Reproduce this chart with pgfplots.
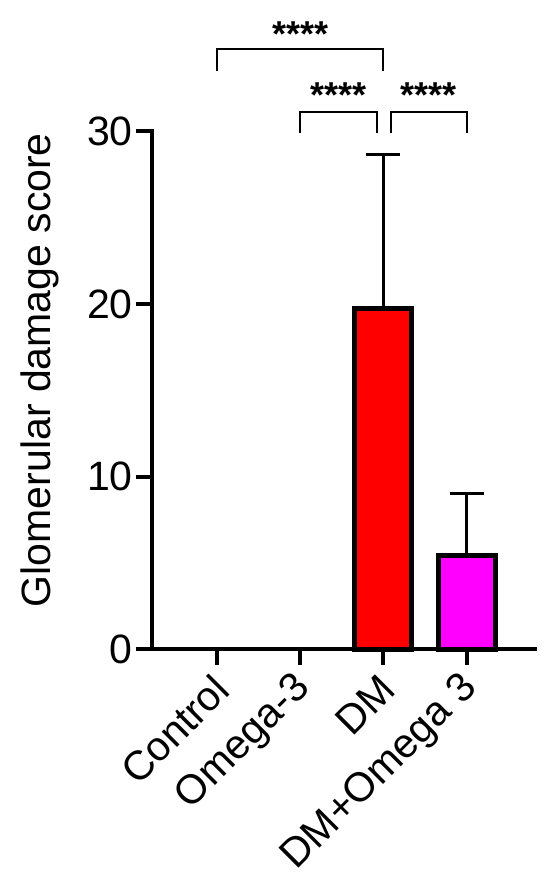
\documentclass[border=0pt]{standalone}
\usepackage{fontspec}
\setmainfont{Liberation Sans}
\usepackage{pgfplots}
\pgfplotsset{compat=1.18}
\usepackage{pgfplotstable}

\definecolor{dmred}{HTML}{FF0000}
\definecolor{dmmag}{HTML}{FF00FF}

% group, mean, SD (upper bar only)
\pgfplotstableread{
x  y     err
2  19.71 8.95
}\dmdata
\pgfplotstableread{
x  y     err
3  5.41  3.62
}\dmomdata
\pgfplotstableread{
x  y
0  0
1  0
}\ctrldata

\newcommand{\lbl}{\fontsize{41}{49}\selectfont}
\newcommand{\stars}{\fontsize{36}{40}\selectfont\bfseries ****}

\begin{document}
\begin{tikzpicture}
\begin{axis}[
    at={(0,0)}, anchor=south west,
    scale only axis,
    width=383.3pt, height=518pt,
    xmin=-0.78, xmax=3.82,
    ymin=0, ymax=30,
    axis lines=left,
    axis line style={line width=4pt, -, line cap=rect},
    tick style={line width=4pt, black},
    major tick length=15.7pt,
    tick align=outside,
    xtick={0,1,2,3},
    xticklabels={Control, Omega-3, DM, DM+Omega 3},
    ytick={0,10,20,30},
    minor tick num=0,
    /pgf/number format/assume math mode=true,
    tick label style={font=\lbl, inner sep=2pt},
    xticklabel style={yshift=-16pt, xshift=6pt, rotate=45, anchor=east},
    yticklabel style={xshift=-1pt},
    ylabel={Glomerular damage score},
    every axis y label/.style={at={(axis description cs:-0.292,0.539)},
        anchor=center, rotate=90, font=\lbl},
    clip=false,
    ybar,
    bar width=57pt,
]
% zero-height bars: nothing visible
\addplot[ybar, bar shift=0pt, draw=none, fill=none]
    table[x=x, y=y] {\ctrldata};
\addplot[ybar, bar shift=0pt, draw=black, line width=5pt, fill=dmred,
    error bars/.cd, y dir=plus, y explicit,
    error bar style={line width=2.5pt, black},
    error mark options={rotate=90, line width=2.5pt, mark size=17pt, black}]
    table[x=x, y=y, y error=err] {\dmdata};
\addplot[ybar, bar shift=0pt, draw=black, line width=5pt, fill=dmmag,
    error bars/.cd, y dir=plus, y explicit,
    error bar style={line width=2.5pt, black},
    error mark options={rotate=90, line width=2.5pt, mark size=17pt, black}]
    table[x=x, y=y, y error=err] {\dmomdata};

% significance brackets
\draw[line width=2pt] (axis cs:0,33.5) -- (axis cs:0,34.74) -- (axis cs:2,34.74) -- (axis cs:2,33.5);
\draw[line width=2pt] (axis cs:1,29.92) -- (axis cs:1,31.13) -- (axis cs:1.92,31.13) -- (axis cs:1.92,29.92);
\draw[line width=2pt] (axis cs:2.09,29.92) -- (axis cs:2.09,31.13) -- (axis cs:3,31.13) -- (axis cs:3,29.92);
\node[anchor=base, inner sep=0pt] at (axis cs:1.01,34.93) {\stars};
\node[anchor=base, inner sep=0pt] at (axis cs:1.46,31.35) {\stars};
\node[anchor=base, inner sep=0pt] at (axis cs:2.545,31.35) {\stars};
\end{axis}
\pgfresetboundingbox
\useasboundingbox (-151.7pt,-243.7pt) rectangle (398.3pt,649.3pt);
\end{tikzpicture}
\end{document}
